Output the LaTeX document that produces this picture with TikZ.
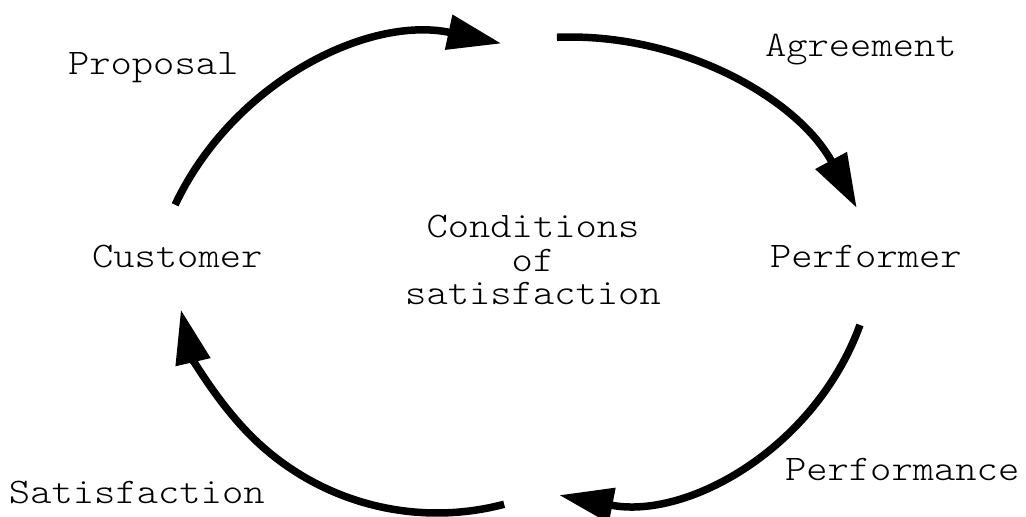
\documentclass[tikz,border=0pt]{standalone}
\usepackage{fontspec}
\newfontfamily\cyclefont{lmmonolt10-regular.otf}[FakeStretch=1.127]
\usetikzlibrary{arrows.meta}
\begin{document}
\begin{tikzpicture}[x=1pt,y=1pt,
  label/.style={inner sep=0pt,outer sep=0pt,anchor=base west,
    font=\cyclefont\fontsize{36pt}{33.5pt}\selectfont},
  flow/.style={line width=7.5pt,
    -{Triangle[length=54pt,width=34pt]}}]
\useasboundingbox (0,0) rectangle (1026,517);

% labels of the cycle
\node[label] (proposal)     at (68,442)  {Proposal};
\node[label] (agreement)    at (765,460) {Agreement};
\node[label] (customer)     at (92,249)  {Customer};
\node[label] (performer)    at (770,249) {Performer};
\node[label] (satisfaction) at (9,13)    {Satisfaction};
\node[label] (performance)  at (785,36)  {Performance};
\node[label,anchor=base,align=center] (conditions) at (533,212)
  {Conditions\\of\\satisfaction};

% arc centres and start points of the four arcs
\coordinate (c1) at (440,187);
\coordinate (c2) at (570,154);
\coordinate (c3) at (610,283);
\coordinate (c4) at (437,267);
\path (c1) ++(154.7:293) coordinate (p1);
\path (c2) ++(92.3:326)  coordinate (p2);
\path (c3) ++(-20:266)   coordinate (p3);
\path (c4) ++(-75.2:263) coordinate (p4);

% the four steps of the loop
\draw[flow] (p1) arc[start angle=154.7, end angle=77.9,  radius=293];
\draw[flow] (p2) arc[start angle=92.3,  end angle=28.4,  radius=326];
\draw[flow] (p3) arc[start angle=-20,   end angle=-101,  radius=266];
\draw[flow] (p4) arc[start angle=-75.2, end angle=-166.9, radius=263];
\end{tikzpicture}
\end{document}
